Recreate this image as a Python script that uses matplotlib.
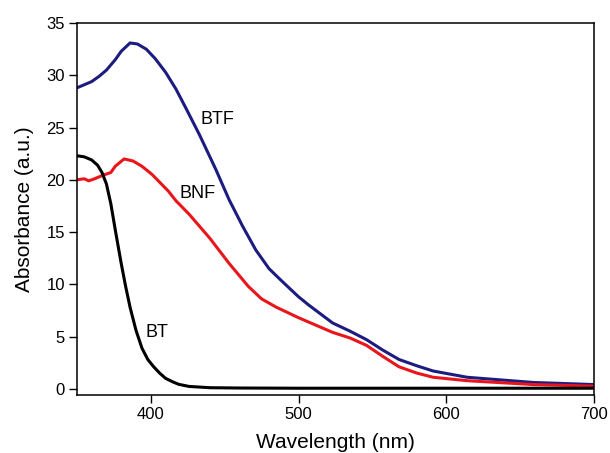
import matplotlib.pyplot as plt

plt.rcParams["font.family"] = ["Liberation Sans", "DejaVu Sans"]

# values (wavelength in nm, absorbance in a.u.)
btf_wl = [350, 355, 360, 365, 370, 376, 380, 386, 391, 397, 403, 410, 417, 424, 433,
          444, 453, 462, 471, 480, 488, 494, 500, 507, 523, 535, 546, 557, 568, 580,
          591, 614, 659, 700]
btf_abs = [28.8, 29.1, 29.4, 29.9, 30.5, 31.5, 32.3, 33.1, 33.0, 32.5, 31.6, 30.3, 28.7, 26.8, 24.3,
           21.0, 18.1, 15.6, 13.3, 11.5, 10.4, 9.6, 8.8, 8.0, 6.3, 5.5, 4.7, 3.7, 2.8, 2.2,
           1.7, 1.1, 0.6, 0.4]

bnf_wl = [350, 355, 358, 362, 367, 373, 376, 382, 388, 394, 401, 412, 417, 426, 440,
          453, 466, 475, 485, 500, 523, 535, 546, 557, 568, 580, 591, 614, 659, 700]
bnf_abs = [20.0, 20.1, 19.9, 20.1, 20.4, 20.7, 21.3, 22.0, 21.8, 21.3, 20.5, 18.9, 18.0, 16.7, 14.4,
           12.0, 9.8, 8.6, 7.8, 6.8, 5.4, 4.85, 4.15, 3.1, 2.1, 1.5, 1.1, 0.77, 0.4, 0.25]

bt_wl = [350, 355, 360, 364, 367, 370, 373, 376, 380, 383, 386, 390, 394, 398, 402,
         406, 410, 415, 419, 426, 440, 460, 500, 600, 700]
bt_abs = [22.3, 22.2, 21.9, 21.4, 20.7, 19.6, 17.7, 15.2, 12.0, 9.8, 7.8, 5.6, 3.9, 2.8, 2.1,
          1.5, 1.0, 0.65, 0.42, 0.22, 0.1, 0.07, 0.05, 0.05, 0.05]

fig = plt.figure(figsize=(6.1, 4.53), dpi=100)
ax = fig.add_axes([0.126, 0.128, 0.848, 0.821])

ax.plot(btf_wl, btf_abs, color="#1c1c80", lw=2.2)
ax.plot(bnf_wl, bnf_abs, color="#e8161c", lw=2.2)
ax.plot(bt_wl, bt_abs, color="black", lw=2.2)

# curve labels
ax.text(445, 25.8, "BTF", fontsize=13, ha="center", va="center")
ax.text(432, 18.65, "BNF", fontsize=13, ha="center", va="center")
ax.text(404, 5.4, "BT", fontsize=13, ha="center", va="center")

ax.set_xlim(350, 700)
ax.set_ylim(-0.6, 35)
ax.set_xticks([400, 500, 600, 700])
ax.set_yticks([0, 5, 10, 15, 20, 25, 30, 35])
ax.tick_params(direction="out", length=6, labelsize=12, width=1, pad=2.5)
for s in ax.spines.values():
    s.set_linewidth(1.1)
ax.set_xlabel("Wavelength (nm)", fontsize=15, labelpad=8)
ax.set_ylabel("Absorbance (a.u.)", fontsize=15, labelpad=9)

fig.savefig("out.png", dpi=100)
